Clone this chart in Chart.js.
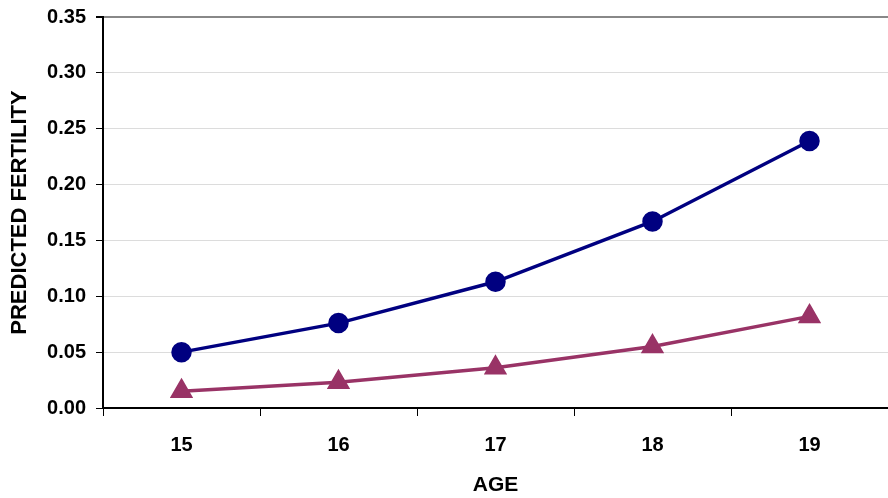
<!DOCTYPE html>
<html lang="en">
<head>
  <meta charset="UTF-8">
  <title>Predicted Fertility by Age</title>
  <script src="https://cdn.jsdelivr.net/npm/chart.js"></script>
  <style>
    html, body { margin: 0; padding: 0; background: #fff; }
    .chart-box { width: 888px; height: 498px; position: relative; }
  </style>
</head>
<body>
<div class="chart-box">
  <canvas id="fertChart"></canvas>
</div>
<script>
  // Data
  const ages = ['15', '16', '17', '18', '19'];
  const seriesCircle = [0.050, 0.076, 0.113, 0.167, 0.239];
  const seriesTriangle = [0.015, 0.023, 0.036, 0.055, 0.082];
  const yTicks = [0, 0.05, 0.10, 0.15, 0.20, 0.25, 0.30, 0.35];

  const fam = 'Arial, "Liberation Sans", sans-serif';
  const tickFont = { family: fam, size: 20, weight: 'bold' };

  new Chart(document.getElementById('fertChart').getContext('2d'), {
    type: 'line',
    data: {
      labels: ages,
      datasets: [
        {
          data: seriesCircle,
          borderColor: '#000080',
          backgroundColor: '#000080',
          borderWidth: 3.5,
          pointStyle: 'circle',
          pointRadius: 8.5,
          pointHoverRadius: 8.5,
          tension: 0
        },
        {
          data: seriesTriangle,
          borderColor: '#993366',
          backgroundColor: '#993366',
          borderWidth: 3.5,
          pointStyle: 'triangle',
          pointRadius: 10,
          pointHoverRadius: 10,
          tension: 0
        }
      ]
    },
    options: {
      responsive: true,
      maintainAspectRatio: false,
      animation: false,
      layout: { autoPadding: false, padding: { top: 17, right: 0, left: 0, bottom: 0 } },
      plugins: {
        legend: { display: false },
        tooltip: { enabled: false }
      },
      scales: {
        x: {
          type: 'category',
          offset: true,
          grid: {
            offset: true,
            drawOnChartArea: false,
            drawTicks: true,
            tickLength: 8,
            color: '#000',
            lineWidth: 1
          },
          border: { color: '#000', width: 2 },
          ticks: { color: '#000', font: tickFont, padding: 17 },
          title: {
            display: true,
            text: 'AGE',
            color: '#000',
            font: { family: fam, size: 21, weight: 'bold' },
            padding: { top: 13, bottom: 0 }
          },
          afterFit: function(axis) {
            axis.height = 90;
            axis.paddingLeft = 0;
            axis.paddingRight = 0;
          }
        },
        y: {
          min: 0,
          max: 0.35,
          afterBuildTicks: function(axis) {
            axis.ticks = yTicks.map(v => ({ value: v }));
          },
          grid: {
            drawTicks: true,
            tickLength: 7,
            color: function(ctx) {
              if (ctx.type === 'tick' && ctx.tick && ctx.tick.value === 0.35) return '#888';
              return '#dcdcdc';
            },
            tickColor: '#000',
            lineWidth: function(ctx) {
              return (ctx.tick && ctx.tick.value === 0.35) ? 2 : 1;
            }
          },
          border: { color: '#000', width: 2 },
          ticks: {
            color: '#000',
            font: tickFont,
            padding: 10,
            callback: function(v) { return Number(v).toFixed(2); }
          },
          title: {
            display: true,
            text: 'PREDICTED FERTILITY',
            color: '#000',
            font: { family: fam, size: 22, weight: 'bold' },
            padding: { top: 7, bottom: 4 }
          },
          afterFit: function(axis) {
            axis.width = 103;
            axis.paddingTop = 0;
            axis.paddingBottom = 0;
          }
        }
      }
    }
  });
</script>
</body>
</html>
